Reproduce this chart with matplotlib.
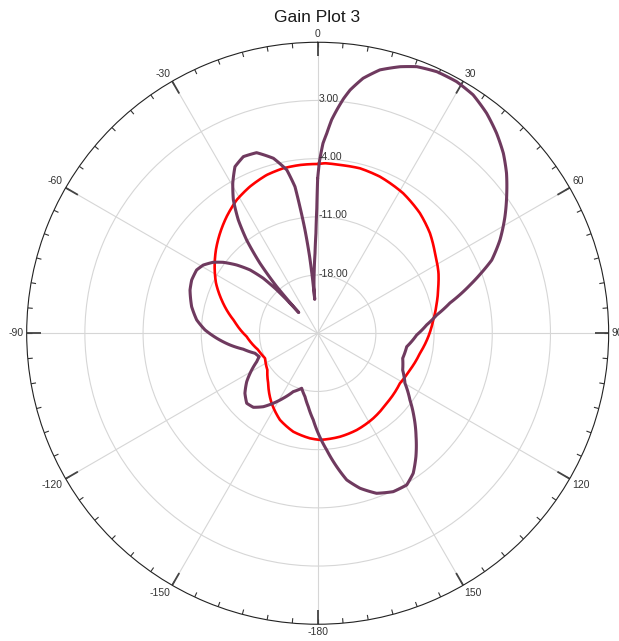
import numpy as np
import matplotlib
matplotlib.use("Agg")
import matplotlib.pyplot as plt
from matplotlib.path import Path
from matplotlib.patches import PathPatch

plt.rcParams['font.family'] = ['Liberation Sans', 'DejaVu Sans']

# Gain pattern, angle in degrees (0 = top, clockwise), gain in dB
red_angle = [0.0, 2.5, 7.5, 14.4, 21.7, 31.4, 40.4, 48.3, 55.7, 63.5, 68.9, 75.9,
             83.4, 91.8, 101.1, 111.7, 121.3, 135.4, 146.8, 158.0, 167.8, 178.8,
             184.2, 193.9, 203.5, 213.3, 224.7, 233.9, 244.6, 254.3, 267.3, 278.5,
             289.1, 296.2, 302.9, 309.3, 315.7, 322.0, 328.7, 335.2, 342.1, 348.2,
             354.0]
red_gain = [-4.64, -4.53, -4.58, -4.52, -4.73, -5.27, -6.03, -6.91, -7.92, -8.76,
            -9.45, -10.24, -11.00, -11.69, -12.47, -13.06, -13.42, -13.18, -12.78,
            -12.45, -12.27, -12.17, -12.33, -12.80, -13.63, -14.92, -16.54, -17.51,
            -17.99, -17.58, -16.45, -14.84, -12.78, -11.37, -10.24, -9.18, -8.18,
            -7.21, -6.24, -5.57, -5.00, -4.73, -4.65]

purple_angle = [0.0, 0.6, 1.6, 2.6, 3.75, 5.0, 6.3, 7.6, 10.1, 13.3, 17.2, 20.4,
                24.5, 28.9, 33.1, 37.5, 41.8, 45.9, 49.7, 53.5, 58.1, 62.9, 67.2,
                70.0, 72.4, 77.1, 81.3, 85.6, 91.0, 98.6, 106.4, 113.4, 119.8,
                125.9, 130.9, 136.4, 141.5, 145.7, 149.6, 154.5, 159.8, 164.7,
                168.8, 171.9, 175.6, 179.7, 182.9, 187.3, 191.3, 196.2, 202.7,
                207.9, 212.4, 216.5, 221.0, 225.4, 230.5, 235.7, 240.9, 245.0,
                248.2, 252.3, 257.9, 262.4, 267.2, 271.7, 276.3, 281.9, 288.7,
                292.9, 297.6, 300.8, 304.2, 306.9, 310.1, 313.1, 315.3, 316.6,
                317.2, 317.6, 318.0, 318.7, 320.5, 322.7, 325.0, 327.7, 330.5,
                333.6, 337.2, 341.3, 345.8, 349.3, 351.2, 352.0, 353.0, 354.0,
                354.6, 355.0, 355.6, 356.8, 358.1, 359.0, 359.6]
purple_gain = [-6.36, -4.31, -2.15, -0.94, 0.74, 2.06, 3.39, 4.52, 6.15, 7.55, 8.56,
               9.21, 9.57, 9.57, 9.23, 8.37, 7.28, 6.10, 4.78, 3.29, 1.53, -0.37,
               -2.29, -4.19, -5.76, -8.68, -10.52, -11.85, -13.09, -14.17, -14.34,
               -13.86, -12.90, -11.30, -9.68, -7.84, -6.02, -4.61, -3.84, -3.89,
               -4.49, -5.67, -7.02, -8.80, -10.93, -12.97, -14.56, -16.10, -17.22,
               -18.11, -17.39, -16.16, -15.03, -14.01, -13.20, -13.01, -13.66,
               -14.67, -15.92, -16.91, -17.43, -17.09, -15.85, -14.36, -12.84,
               -11.44, -10.36, -9.51, -8.79, -8.55, -8.57, -8.98, -9.81, -10.79,
               -12.25, -13.85, -15.69, -17.66, -19.35, -21.63, -20.07, -17.53,
               -14.09, -10.90, -8.35, -6.02, -4.26, -2.63, -1.95, -2.07, -3.29,
               -5.01, -7.16, -9.63, -12.48, -15.74, -18.38, -20.91, -19.23, -17.54,
               -15.38, -12.97, -9.96]

ring_values = [-18, -11, -4, 3]
ring_labels = ['-18.00', '-11.00', '-4.00', '3.00']
angle_ticks = [0, 30, 60, 90, 120, 150, 180, 210, 240, 270, 300, 330]
angle_labels = ['0', '30', '60', '90', '120', '150', '-180', '-150', '-120', '-90', '-60', '-30']
r_min, r_max = -25, 10


def trace(ax, angle, gain, color, lw, z):
    # closed trace, segments follow the polar grid (angle and gain vary together)
    a = np.deg2rad(np.append(angle, angle[0] + 360))
    g = np.append(gain, gain[0])
    path = Path(np.column_stack([a, g]), _interpolation_steps=24)
    ax.add_patch(PathPatch(path, fill=False, edgecolor=color, linewidth=lw,
                           joinstyle='round', capstyle='round',
                           transform=ax.transData, zorder=z))


fig = plt.figure(figsize=(6.19, 6.41), dpi=100)
ax = fig.add_axes([0.0431, 0.0261, 0.9402, 0.9080], projection='polar')
ax.set_theta_zero_location('N')
ax.set_theta_direction(-1)
ax.set_ylim(r_min, r_max)

ax.set_xticks(np.deg2rad(angle_ticks))
ax.set_xticklabels([])
ax.set_yticks(ring_values)
ax.set_yticklabels([])
ax.grid(True, color='#d6d6d6', linewidth=0.8)
ax.tick_params(length=0)
ax.spines['polar'].set_color('#222222')
ax.spines['polar'].set_linewidth(0.8)

# rim ticks: every 5 degrees, longer ones at the labelled angles
minor = np.deg2rad(np.arange(0, 360, 5))
ax.vlines(minor, r_max - 0.6, r_max, colors='#333333', linewidth=0.8, zorder=2)
ax.vlines(np.deg2rad(angle_ticks), r_max - 1.7, r_max, colors='#444444',
          linewidth=1.3, zorder=2)

trace(ax, red_angle, red_gain, '#ff0000', 1.9, 3)
trace(ax, purple_angle, purple_gain, '#6f3a5f', 2.2, 4)

# ring values along the 0 degree spoke
for v, lab in zip(ring_values, ring_labels):
    ax.annotate(lab, xy=(0, v), xytext=(0.5, 1.0), textcoords='offset points',
                ha='left', va='center', fontsize=7.5, color='#333333', zorder=5)

# angle labels just outside the rim
for t, lab in zip(angle_ticks, angle_labels):
    s, c = np.sin(np.deg2rad(t)), np.cos(np.deg2rad(t))
    ha = 'left' if s > 0.3 else ('right' if s < -0.3 else 'center')
    va = 'bottom' if c > 0.3 else ('top' if c < -0.3 else 'center')
    ax.annotate(lab, xy=(np.deg2rad(t), r_max), xytext=(2.2 * s, 2.2 * c),
                textcoords='offset points', ha=ha, va=va, fontsize=7.5,
                color='#333333', annotation_clip=False)

fig.text(0.512, 1 - 18 / 641, 'Gain Plot 3', ha='center', va='center',
         fontsize=12.5, color='#1a1a1a')

fig.savefig('out.png', dpi=100)
